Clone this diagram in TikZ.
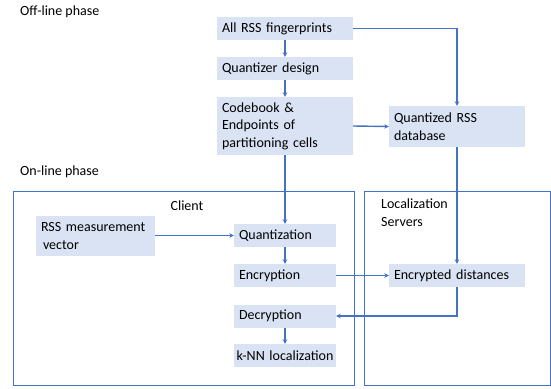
\documentclass[tikz,border=0pt]{standalone}
\usepackage{fontspec}
\setmainfont{Carlito}
\usetikzlibrary{arrows.meta}

\definecolor{boxfill}{HTML}{DAE3F3}
\definecolor{lineblue}{HTML}{4472C4}

\tikzset{
  blk/.style={fill=boxfill, inner xsep=5pt, inner ysep=0pt, align=left, anchor=center,
    font=\fontsize{14}{17.5}\selectfont, minimum height=#1},
  blk/.default=23pt,
  frame/.style={draw=lineblue, line width=1pt},
  link/.style={draw=lineblue, line width=1.4pt, -{Stealth[length=4.5pt,width=4.5pt]}},
  lbl/.style={font=\fontsize{14}{17.5}\selectfont, align=left, inner sep=0pt}
}

\begin{document}
\begin{tikzpicture}[x=1pt,y=-1pt]
  \useasboundingbox (0,0) rectangle (551,388);

  % phase titles
  \node (offline) [lbl, anchor=west] at (20,12) {Off-line phase};
  \node (online) [lbl, anchor=west] at (20,172) {On-line phase};

  % frames
  \draw [frame] (13,191) rectangle (354,385);
  \draw [frame] (364,191) rectangle (550,385);
  \node (client) [lbl] at (187,206) {Client};
  \node (servers) [lbl, anchor=north west] at (381,199) {Localization\\Servers};

  % off-line blocks
  \node (allrss) [blk, text width=126pt] at (285,28.5) {All RSS fingerprints};
  \node (qdesign) [blk, text width=126pt] at (285,68.5) {Quantizer design};
  \node (codebook) [blk=58pt, text width=126pt] at (285,126) {Codebook \&\\Endpoints of\\partitioning cells};
  \node (qdb) [blk=41pt, text width=126pt] at (457,126.5) {Quantized RSS\\database};

  % on-line blocks
  \node (rssvec) [blk=40pt, text width=109pt] at (95.5,236) {RSS measurement\\\hspace{2pt}vector};
  \node (quant) [blk, text width=92pt] at (285,235.5) {Quantization};
  \node (encr) [blk, text width=92pt] at (285,275.5) {Encryption};
  \node (decr) [blk, text width=92pt] at (285,316) {Decryption};
  \node (knn) [blk, text width=102pt, inner xsep=0pt, align=center] at (285,355.5) {k-NN localization};
  \node (encdist) [blk, text width=126pt] at (457,275.5) {Encrypted distances};

  % connectors
  \draw [link] (allrss) -- (qdesign);
  \draw [link] (qdesign) -- (codebook);
  \draw [link] (allrss.east) -| (qdb.north);
  \draw [link] (codebook.east) -- (qdb.west);
  \draw [link] (codebook) -- (quant);
  \draw [link] (qdb) -- (encdist);
  \draw [link] (rssvec.east |- quant.west) -- (quant.west);
  \draw [link] (quant) -- (encr);
  \draw [link] (encr) -- (encdist);
  \draw [link] (encdist.south) |- (decr.east);
  \draw [link] (decr) -- (knn);

\end{tikzpicture}
\end{document}
